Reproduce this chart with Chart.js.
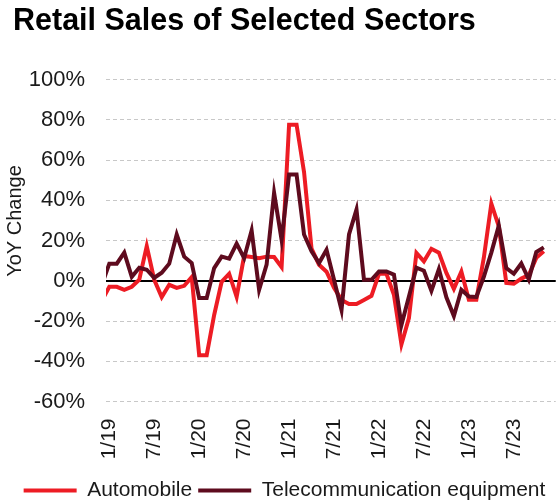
<!DOCTYPE html>
<html>
<head>
<meta charset="utf-8">
<script src="https://cdn.jsdelivr.net/npm/chart.js@4.4.1/dist/chart.umd.min.js"></script>
<style>
  html, body { margin: 0; padding: 0; background: #fff; }
</style>
</head>
<body>
<canvas id="myChart" width="556" height="502"></canvas>
<script>
// months, Dec 2018 .. Nov 2023 (the Dec 2018 point is only the entry stub at the left edge)
const months = [
  '12/18',
  '1/19','2/19','3/19','4/19','5/19','6/19','7/19','8/19','9/19','10/19','11/19','12/19',
  '1/20','2/20','3/20','4/20','5/20','6/20','7/20','8/20','9/20','10/20','11/20','12/20',
  '1/21','2/21','3/21','4/21','5/21','6/21','7/21','8/21','9/21','10/21','11/21','12/21',
  '1/22','2/22','3/22','4/22','5/22','6/22','7/22','8/22','9/22','10/22','11/22','12/22',
  '1/23','2/23','3/23','4/23','5/23','6/23','7/23','8/23','9/23','10/23','11/23'
];

// tick labels shown on the x axis
const tickMonths = ['1/19','7/19','1/20','7/20','1/21','7/21','1/22','7/22','1/23','7/23'];

// YoY change, %
const automobile = [
  -10,
  -3, -3, -4.5, -3, 0.5, 17.2, 0.5, -8.1, -2, -3.5, -2.5, 1.8,
  -37, -37, -17, -0.5, 3.5, -8, 12.3, 11.8, 11.2, 12, 11.8, 6.8,
  77.6, 77.6, 54, 16, 8, 4.5, -3.5, -9.5, -11.5, -11.5, -9.5, -7.5,
  3.5, 3.5, -7, -31.6, -18.5, 13.9, 9.7, 15.9, 14, 3.9, -4, 4.6,
  -9.4, -9.4, 11.5, 38.4, 27, -1.1, -1.5, 1.1, 2.8, 11.4, 14.7
];

const telecom = [
  -2,
  8.5, 8.5, 14, 2, 6.5, 5.5, 1.5, 4, 8.5, 23, 12, 8.8,
  -8.6, -8.6, 6.3, 12, 11, 18.5, 11.3, 25, -4.5, 8, 43.7, 20.4,
  52.8, 52.8, 23, 14.6, 8.8, 15.4, 0.5, -14.5, 23, 35.4, 0.5, 0.5,
  4.6, 4.6, 3, -22, -7.8, 6.5, 5, -5, 5.8, -8.2, -17.5, -4.5,
  -7.8, -8, 2, 14, 27.4, 6.3, 3.5, 8.6, 0.7, 14.3, 16.6
];

const FONT = "'Liberation Sans', Arial, sans-serif";
const RED = '#ED1C24';
const MAROON = '#5E0B1E';
const LEGEND_DROP = 9;   // legend sits a bit lower than Chart.js would put it

function toPoints(values) {
  return values.map((v, i) => ({ x: i, y: v }));
}

// y axis title, drawn a little above the axis centre like the original
const yTitle = {
  id: 'yTitle',
  afterDraw(chart) {
    const c = chart.ctx;
    c.save();
    c.translate(15, 221);
    c.rotate(-Math.PI / 2);
    c.fillStyle = '#1a1a1a';
    c.font = "20px " + FONT;
    c.textAlign = 'center';
    c.textBaseline = 'middle';
    c.fillText('YoY Change', 0, 0);
    c.restore();
  }
};

const ctx = document.getElementById('myChart');
const myChart = new Chart(ctx, {
  type: 'line',
  data: {
    datasets: [
      {
        label: 'Automobile',
        data: toPoints(automobile),
        borderColor: RED,
        backgroundColor: RED,
        borderWidth: 4,
        order: 1
      },
      {
        label: 'Telecommunication equipment',
        data: toPoints(telecom),
        borderColor: MAROON,
        backgroundColor: MAROON,
        borderWidth: 4,
        order: 0
      }
    ]
  },
  options: {
    responsive: false,
    animation: false,
    devicePixelRatio: 1,
    layout: { padding: { left: 13, right: 0, top: 0, bottom: -LEGEND_DROP } },
    elements: {
      point: { radius: 0, hoverRadius: 0, pointStyle: 'line' },
      line: { tension: 0, fill: false }
    },
    datasets: { line: { clip: 0 } },
    scales: {
      x: {
        type: 'linear',
        min: 0.56,
        max: 60.6,
        afterBuildTicks: (scale) => {
          scale.ticks = tickMonths.map(m => ({ value: months.indexOf(m) }));
        },
        ticks: {
          callback: (value) => months[value],
          autoSkip: false,
          minRotation: 90,
          maxRotation: 90,
          padding: 17,
          color: '#1a1a1a',
          font: { family: FONT, size: 21 }
        },
        grid: { display: false, drawTicks: false },
        border: { display: false },
        // keep the plot bottom at the -60% line position of the original
        afterFit: (scale) => {
          const lg = scale.chart.legend ? scale.chart.legend.height : 34;
          scale.height = 502 + LEGEND_DROP - 401.5 - lg;
        }
      },
      y: {
        min: -60,
        max: 100,
        ticks: {
          stepSize: 20,
          callback: (v) => v + '%',
          padding: 21,
          color: '#1a1a1a',
          font: { family: FONT, size: 22 }
        },
        grid: {
          drawTicks: false,
          color: (c) => (c.tick && c.tick.value === 0) ? '#000' : '#c8c8c8',
          lineWidth: (c) => (c.tick && c.tick.value === 0) ? 2 : 1
        },
        border: {
          display: false,
          dash: (c) => (c.tick && c.tick.value === 0) ? [] : [4, 3]
        },
        afterFit: (scale) => { scale.width = 93; }
      }
    },
    plugins: {
      title: {
        display: true,
        text: 'Retail Sales of Selected Sectors',
        align: 'start',
        color: '#000',
        font: { family: FONT, size: 30.5, weight: 'bold' },
        padding: { top: 3, bottom: 40 }
      },
      legend: {
        position: 'bottom',
        labels: {
          usePointStyle: true,
          pointStyle: 'line',
          pointStyleWidth: 53,
          boxWidth: 53,
          padding: 6,
          color: '#1a1a1a',
          font: { family: FONT, size: 21 },
          sort: (a, b) => a.datasetIndex - b.datasetIndex
        }
      },
      tooltip: { enabled: false }
    }
  },
  plugins: [yTitle]
});
</script>
</body>
</html>
